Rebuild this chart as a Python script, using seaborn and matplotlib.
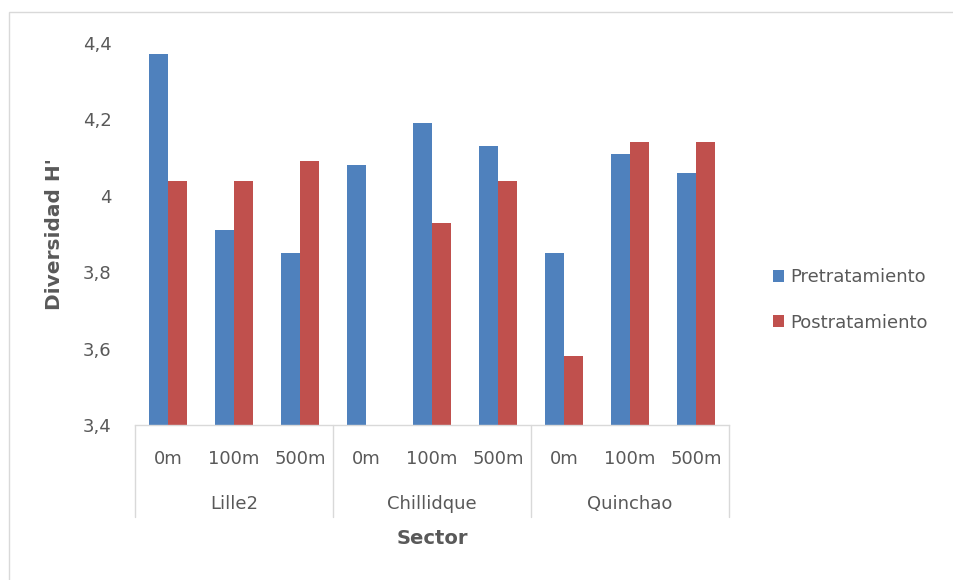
import numpy as np
import pandas as pd
import matplotlib
matplotlib.use("Agg")
import matplotlib.pyplot as plt
import matplotlib.transforms as mtransforms
from matplotlib.patches import Rectangle
import seaborn as sns

# Data: Shannon diversity (H') per sector and distance, before and after treatment
sectores = ["Lille2", "Chillidque", "Quinchao"]
distancias = ["0m", "100m", "500m"]
pretratamiento = [4.37, 3.91, 3.85, 4.08, 4.19, 4.13, 3.85, 4.11, 4.06]
postratamiento = [4.04, 4.04, 4.09, np.nan, 3.93, 4.04, 3.58, 4.14, 4.14]
series = ["Pretratamiento", "Postratamiento"]
y_ticks = [3.4, 3.6, 3.8, 4.0, 4.2, 4.4]
y_tick_labels = ["3,4", "3,6", "3,8", "4", "4,2", "4,4"]

sitios = [f"{s} {d}" for s in sectores for d in distancias]
df = pd.DataFrame({
    "Sitio": sitios * 2,
    "Serie": [series[0]] * len(sitios) + [series[1]] * len(sitios),
    "H": pretratamiento + postratamiento,
})

sns.set_theme(style="white")
plt.rcParams["font.family"] = ["DejaVu Sans"]
txt = "#595959"
fs = 13

fig = plt.figure(figsize=(9.54, 5.80), dpi=100)
W, H = 954, 580
ax = fig.add_axes([135 / W, 1 - 425 / H, 594 / W, 382 / H])

sns.barplot(data=df, x="Sitio", y="H", hue="Serie", order=sitios,
            hue_order=series, palette=["#4F81BD", "#C0504D"],
            width=0.58, errorbar=None, saturation=1, linewidth=0,
            ax=ax, legend=True)

ax.set_ylim(3.4, 4.4)
ax.set_xlim(-0.5, len(sitios) - 0.5)
ax.set_yticks(y_ticks)
ax.set_yticklabels(y_tick_labels)
ax.set_xticks(range(len(sitios)))
ax.set_xticklabels(distancias * len(sectores))
ax.tick_params(axis="y", length=0, pad=17, labelsize=fs, labelcolor=txt)
ax.tick_params(axis="x", length=0, pad=18, labelsize=fs, labelcolor=txt)

for side in ["left", "right", "top"]:
    ax.spines[side].set_visible(False)
ax.spines["bottom"].set_color("#D9D9D9")
ax.spines["bottom"].set_linewidth(1.0)

# Multi-level category axis: separators and sector names
trans = mtransforms.blended_transform_factory(ax.transData, ax.transAxes)
sep_bottom = -(517 - 425) / 382
for xb in [-0.5, 2.5, 5.5, 8.5]:
    ax.plot([xb, xb], [0, sep_bottom], color="#D9D9D9", lw=1.0,
            transform=trans, clip_on=False)
for i, s in enumerate(sectores):
    ax.text(3 * i + 1, -(504 - 425) / 382, s, transform=trans,
            ha="center", va="center", fontsize=fs, color=txt)

ax.set_xlabel("Sector", fontsize=14, fontweight="bold", color=txt)
ax.xaxis.set_label_coords(0.5, -(539 - 425) / 382)
ax.xaxis.label.set_va("center")
ax.set_ylabel("Diversidad H'", fontsize=14.5, fontweight="bold", color=txt)
ax.yaxis.set_label_coords((55 - 135) / 594, 0.5)
ax.yaxis.label.set_va("center")

handles, labels = ax.get_legend_handles_labels()
ax.get_legend().remove()
fig.legend(handles, labels, loc="center left",
           bbox_to_anchor=(757 / W, 1 - 300 / H), frameon=False,
           fontsize=fs, labelcolor=txt, handlelength=0.6, handleheight=0.6,
           handletextpad=0.35, labelspacing=1.5)

# Chart area border
fig.patches.append(Rectangle((9 / W, -0.1), 1.2, 1 - 12 / H + 0.1,
                             transform=fig.transFigure, fill=False,
                             edgecolor="#D9D9D9", lw=1.0, zorder=0))

fig.savefig("out.png", dpi=100, facecolor="white")
